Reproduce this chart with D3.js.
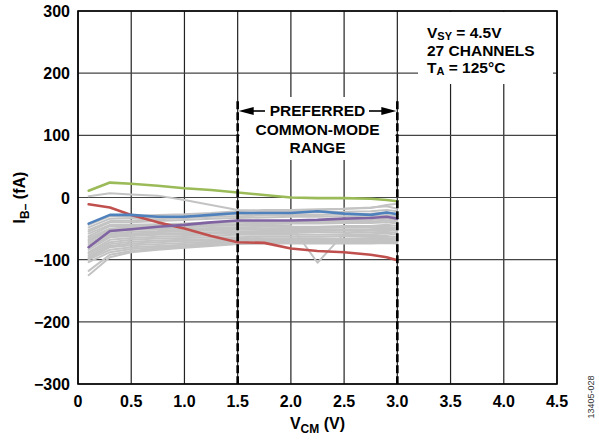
<!DOCTYPE html>
<html><head><meta charset="utf-8">
<script src="https://cdn.jsdelivr.net/npm/d3@7"></script>
<style>body{margin:0;background:#fff}svg{display:block}text{font-family:"Liberation Sans",Arial,sans-serif}</style>
</head><body><div id="c"></div>
<script>
const vcm = [0.1,0.3,0.5,0.75,1.0,1.25,1.5,1.75,2.0,2.25,2.5,2.75,2.9,3.0];
const xTicks = [0,0.5,1.0,1.5,2.0,2.5,3.0,3.5,4.0,4.5];
const yTicks = [-300,-200,-100,0,100,200,300];
const green  = [11,24,22,19,15,12,8,4,0,-1,-1,-2,-4,-6];
const blue   = [-42,-28,-28,-31,-31,-28,-25,-25,-25,-22,-26,-28,-24,-27];
const purple = [-80,-54,-51,-47,-44,-40,-37,-37,-37,-36,-34,-33,-31,-34];
const red    = [-11,-16,-28,-40,-50,-62,-72,-73,-82,-86,-88,-92,-96,-101];
const grayChannels = [
 [2,7,5,3,-4,-12,-20,-22,-22,-21,-18,-17,-12,-10],
 [-44,-30,-30,-28,-27,-25,-22,-20,-20,-19,-18,-16,-14,-18],
 [-48,-34,-33,-32,-30,-28,-27,-26,-25,-24,-23,-22,-20,-22],
 [-52,-38,-37,-35,-33,-31,-30,-29,-28,-28,-27,-26,-24,-26],
 [-55,-40,-40,-38,-36,-34,-33,-32,-31,-31,-30,-30,-28,-30],
 [-58,-44,-44,-43,-42,-40,-38,-38,-38,-37,-37,-36,-34,-37],
 [-62,-46,-46,-45,-44,-42,-40,-40,-40,-40,-39,-39,-37,-39],
 [-65,-50,-48,-47,-45,-44,-43,-42,-42,-42,-41,-41,-40,-42],
 [-68,-52,-50,-49,-48,-46,-45,-44,-45,-105,-58,-52,-48,-50],
 [-70,-55,-52,-51,-50,-49,-48,-47,-47,-47,-46,-46,-44,-46],
 [-73,-58,-55,-54,-52,-51,-50,-50,-49,-49,-48,-48,-47,-49],
 [-76,-60,-58,-56,-54,-53,-52,-52,-52,-51,-51,-51,-50,-52],
 [-80,-62,-60,-58,-57,-56,-55,-54,-54,-54,-53,-53,-52,-54],
 [-84,-64,-62,-60,-59,-58,-57,-57,-57,-56,-56,-56,-55,-57],
 [-88,-68,-65,-63,-62,-61,-60,-60,-60,-60,-59,-59,-58,-60],
 [-90,-72,-68,-66,-65,-64,-64,-63,-63,-63,-62,-62,-62,-64],
 [-93,-75,-71,-69,-68,-67,-66,-66,-66,-66,-66,-65,-65,-66],
 [-96,-78,-74,-72,-70,-69,-68,-68,-68,-68,-68,-68,-67,-68],
 [-98,-80,-77,-75,-73,-71,-70,-70,-70,-70,-70,-70,-69,-70],
 [-100,-84,-80,-78,-76,-73,-72,-71,-71,-71,-71,-71,-70,-71],
 [-104,-88,-83,-80,-78,-75,-73,-72,-72,-72,-72,-72,-71,-72],
 [-118,-92,-86,-82,-80,-77,-74,-73,-73,-73,-73,-73,-72,-73],
 [-125,-96,-88,-84,-81,-78,-75,-74,-74,-74,-74,-74,-73,-74]
];
const rangeBounds = [1.5, 3.0];

const W=599,H=440, L=78,R=557,T=11,B=384;
const svg=d3.select("#c").append("svg").attr("width",W).attr("height",H);
const x=d3.scaleLinear().domain([0,4.5]).range([L,R]);
const y=d3.scaleLinear().domain([-300,300]).range([B,T]);

// grid
const grid=svg.append("g").attr("stroke","#222").attr("stroke-width",1.2);
xTicks.forEach(t=>grid.append("line").attr("x1",x(t)).attr("x2",x(t)).attr("y1",T).attr("y2",B));
yTicks.forEach(t=>grid.append("line").attr("x1",L).attr("x2",R).attr("y1",y(t)).attr("y2",y(t)).attr("stroke","#444"));

// white boxes behind annotations
svg.append("rect").attr("x",418).attr("y",T+1).attr("width",135).attr("height",72).attr("fill","#fff");
svg.append("rect").attr("x",x(1.5)+2).attr("y",97).attr("width",x(3.0)-x(1.5)-4).attr("height",63).attr("fill","#fff");

const line=d3.line().x((d,i)=>x(vcm[i])).y(d=>y(d));
const lg=svg.append("g").attr("fill","none").attr("stroke-linejoin","round").attr("stroke-linecap","round");
grayChannels.forEach(s=>lg.append("path").attr("d",line(s)).attr("stroke","#c3c3c3").attr("stroke-width",2));
[[green,"#9bbb59"],[red,"#c0504d"],[blue,"#4f81bd"],[purple,"#8064a2"]].forEach(([s,c])=>
  lg.append("path").attr("d",line(s)).attr("stroke",c).attr("stroke-width",2.6));

// dashed range lines
rangeBounds.forEach(v=>svg.append("line").attr("x1",x(v)).attr("x2",x(v)).attr("y1",y(155)).attr("y2",B)
  .attr("stroke","#000").attr("stroke-width",2.6).attr("stroke-dasharray","8,3"));

// frame
svg.append("rect").attr("x",L).attr("y",T).attr("width",R-L).attr("height",B-T).attr("fill","none").attr("stroke","#000").attr("stroke-width",1.6);

// axes labels
const fs=16;
svg.append("g").selectAll("text").data(yTicks).join("text").attr("x",L-8).attr("y",d=>y(d)+6)
  .attr("text-anchor","end").attr("font-size",fs).attr("font-weight","bold").text(d=>d<0?"\u2212"+Math.abs(d):d);
svg.append("g").selectAll("text").data(xTicks).join("text").attr("x",d=>x(d)).attr("y",B+23)
  .attr("text-anchor","middle").attr("font-size",fs).attr("font-weight","bold").text(d=>d===0?"0":d.toFixed(1));

// x title
const xt=svg.append("text").attr("x",x(2.25)).attr("y",429).attr("text-anchor","middle").attr("font-size",fs).attr("font-weight","bold");
xt.append("tspan").text("V");
xt.append("tspan").attr("font-size",12).attr("dy",4).text("CM");
xt.append("tspan").attr("dy",-4).text(" (V)");
// y title
const yt=svg.append("text").attr("transform",`translate(25,${y(0)}) rotate(-90)`).attr("text-anchor","middle").attr("font-size",fs).attr("font-weight","bold");
yt.append("tspan").text("I");
yt.append("tspan").attr("font-size",12).attr("dy",4).text("B\u2013");
yt.append("tspan").attr("dy",-4).text(" (fA)");

// top right note
const note=svg.append("g").attr("font-size",15.5).attr("font-weight","bold");
const n1=note.append("text").attr("x",427).attr("y",38);
n1.append("tspan").text("V"); n1.append("tspan").attr("font-size",11).attr("dy",2).text("SY"); n1.append("tspan").attr("dy",-2).text(" = 4.5V");
note.append("text").attr("x",427).attr("y",56).text("27 CHANNELS");
const n3=note.append("text").attr("x",427).attr("y",73);
n3.append("tspan").text("T"); n3.append("tspan").attr("font-size",11).attr("dy",2).text("A"); n3.append("tspan").attr("dy",-2).text(" = 125°C");

// preferred range annotation
const cx=(x(1.5)+x(3.0))/2;
const ann=svg.append("g").attr("font-size",15.5).attr("font-weight","bold").attr("text-anchor","middle");
ann.append("text").attr("x",cx).attr("y",116).text("PREFERRED");
ann.append("text").attr("x",cx).attr("y",135).text("COMMON-MODE");
ann.append("text").attr("x",cx).attr("y",153).text("RANGE");
const ay=111;
svg.append("line").attr("x1",x(1.5)+10).attr("x2",265).attr("y1",ay).attr("y2",ay).attr("stroke","#000").attr("stroke-width",1.6);
svg.append("line").attr("x1",369).attr("x2",x(3.0)-10).attr("y1",ay).attr("y2",ay).attr("stroke","#000").attr("stroke-width",1.6);
svg.append("path").attr("d",`M${x(1.5)+1},${ay} l15,-4 l0,8 z`).attr("fill","#000");
svg.append("path").attr("d",`M${x(3.0)-1},${ay} l-15,-4 l0,8 z`).attr("fill","#000");

// figure id
svg.append("text").attr("transform","translate(594,397) rotate(-90)").attr("text-anchor","middle").attr("font-size",9).attr("fill","#333").text("13405-028");
</script></body></html>
